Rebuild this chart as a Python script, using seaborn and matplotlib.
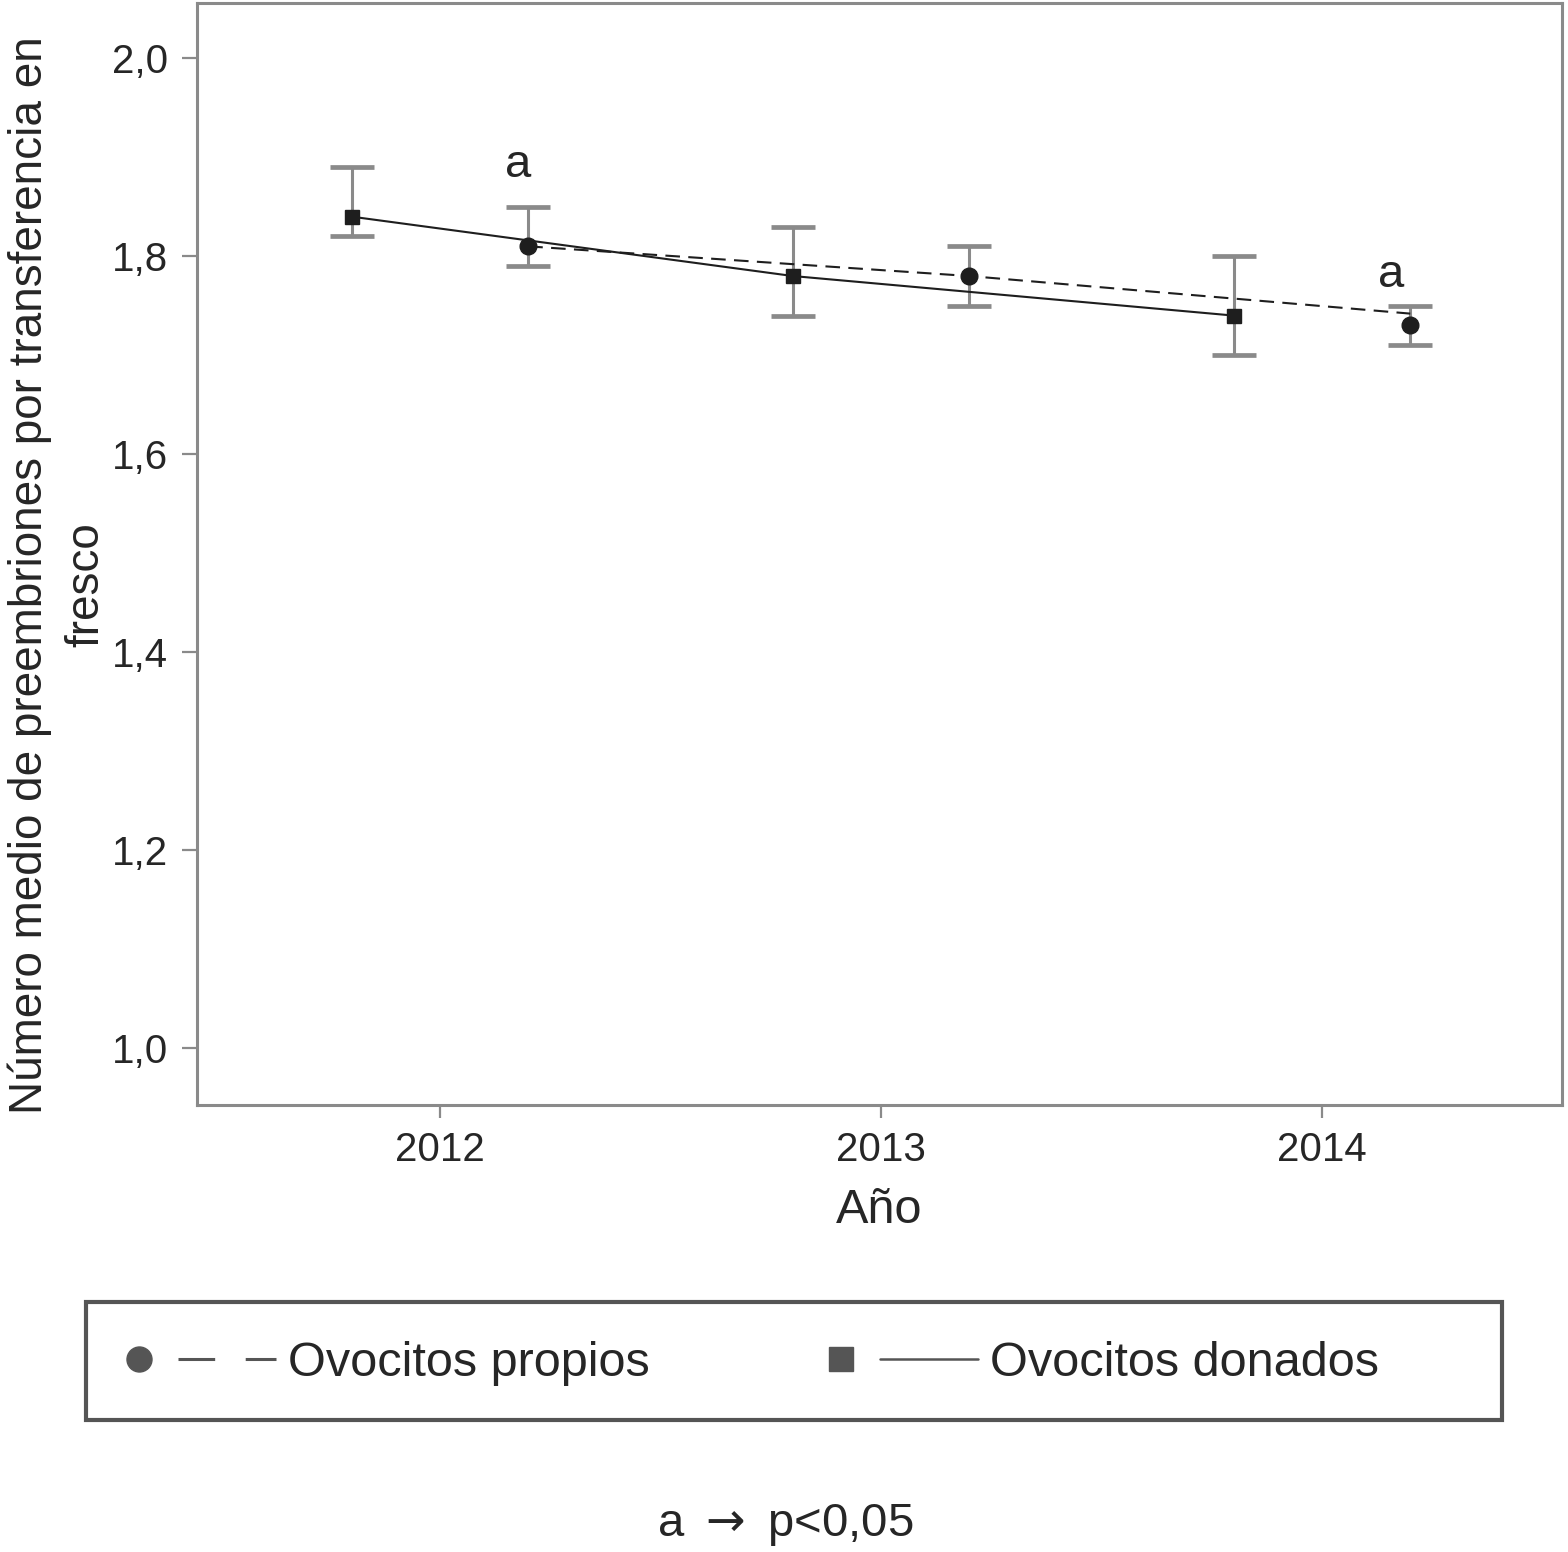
import numpy as np
import pandas as pd
import matplotlib
matplotlib.use("Agg")
import matplotlib.pyplot as plt
import seaborn as sns
from matplotlib.lines import Line2D
from matplotlib.patches import Rectangle
from matplotlib.legend_handler import HandlerBase

# data
years = [2012, 2013, 2014]
propios_mean = [1.81, 1.78, 1.73]
propios_lo = [1.79, 1.75, 1.71]
propios_hi = [1.85, 1.81, 1.75]
propios_line = [1.81, 1.78, 1.742]
donados_mean = [1.84, 1.78, 1.74]
donados_lo = [1.82, 1.74, 1.70]
donados_hi = [1.89, 1.83, 1.80]
yticks = [1.0, 1.2, 1.4, 1.6, 1.8, 2.0]
signif_idx = [0, 2]   # propios points marked with "a"
signif_dx = [-0.022, -0.043]
signif_dy = [0.02, 0.009]

DODGE = 0.2
FONT = ["Liberation Sans", "DejaVu Sans"]
GREY = "#8a8a8a"
DARK = "#1e1e1e"
LEG = "#555555"

sns.set_style("white")
plt.rcParams["font.family"] = FONT


class MarkerThenLine(HandlerBase):
    # marker at the left, line segment to the right of it
    def create_artists(self, legend, orig_handle, xdescent, ydescent,
                       width, height, fontsize, trans):
        mk, ln = orig_handle
        y = height / 2 - ydescent
        x0 = -xdescent
        m = Line2D([x0 + 0.125 * width], [y], ls="none", marker=mk.get_marker(),
                   ms=mk.get_markersize(), color=mk.get_color())
        l = Line2D([0, 1], [0, 0])
        l.update_from(ln)
        l.set_data([x0 + 0.375 * width, x0 + width], [y, y])
        m.set_transform(trans)
        l.set_transform(trans)
        return [m, l]


df = pd.DataFrame({
    "year": years * 2,
    "mean": propios_mean + donados_mean,
    "lo": propios_lo + donados_lo,
    "hi": propios_hi + donados_hi,
    "line": propios_line + donados_mean,
    "grupo": ["Ovocitos propios"] * 3 + ["Ovocitos donados"] * 3,
})
df["x"] = df["year"] + np.where(df["grupo"] == "Ovocitos propios", DODGE, -DODGE)

fig = plt.figure(figsize=(15.68, 15.52), dpi=100)
ax = fig.add_axes([197 / 1568, 1 - 1105 / 1552, 1365 / 1568, 1102 / 1552])

styles = {
    "Ovocitos propios": dict(marker="o", ls=(0, (7, 4)), ms=12),
    "Ovocitos donados": dict(marker="s", ls="-", ms=10),
}

for grupo, sub in df.groupby("grupo"):
    st = styles[grupo]
    ax.errorbar(sub["x"], sub["mean"],
                yerr=[sub["mean"] - sub["lo"], sub["hi"] - sub["mean"]],
                fmt="none", ecolor=GREY, elinewidth=2.2, capsize=16, capthick=3.4, zorder=2)
    sns.lineplot(data=sub, x="x", y="line", ax=ax, color=DARK, lw=1.5,
                 linestyle=st["ls"], zorder=3, legend=False)
    ax.plot(sub["x"], sub["mean"], ls="none", marker=st["marker"], ms=st["ms"],
            color=DARK, mec=DARK, zorder=4)

prop = df[df["grupo"] == "Ovocitos propios"].reset_index(drop=True)
for i, dx, dy in zip(signif_idx, signif_dx, signif_dy):
    ax.text(prop.loc[i, "x"] + dx, prop.loc[i, "hi"] + dy, "a",
            ha="center", va="bottom", fontsize=34)

ax.set_xlim(2011.449, 2014.544)
ax.set_ylim(0.942, 2.056)
ax.set_xticks(years)
ax.set_xticklabels([str(y) for y in years])
ax.set_yticks(yticks)
ax.set_yticklabels([f"{v:.1f}".replace(".", ",") for v in yticks])
ax.tick_params(axis="both", labelsize=29, width=1.6, color=GREY,
               direction="out", left=True, bottom=True)
ax.tick_params(axis="y", length=11, pad=10)
ax.tick_params(axis="x", length=9.5, pad=9)
for s in ax.spines.values():
    s.set_color(GREY)
    s.set_linewidth(2.2)

ax.set_xlabel("Año", fontsize=35, labelpad=14)
# y label wraps onto a second line ("fresco"), drawn as its own text
ax.set_ylabel("Número medio de preembriones por transferencia en",
              fontsize=33, va="center")
ax.yaxis.set_label_coords(-0.1225, 0.481)
ax.text(-0.081, 0.472, "fresco", rotation=90, ha="center", va="center",
        fontsize=33, transform=ax.transAxes)

handles = [
    (Line2D([], [], ls="none", marker="o", ms=18, color=LEG),
     Line2D([], [], ls=(0, (12, 10)), lw=2.2, color=LEG)),
    (Line2D([], [], ls="none", marker="s", ms=17, color=LEG),
     Line2D([], [], ls="-", lw=1.8, color=LEG)),
]
leg = fig.legend(handles, ["Ovocitos propios", "Ovocitos donados"],
                 handler_map={tuple: MarkerThenLine()},
                 ncol=2, loc="center left",
                 bbox_to_anchor=(120 / 1568, 1 - 1364 / 1552),
                 fontsize=35, handlelength=3.2, handletextpad=0.25,
                 columnspacing=3.55, borderpad=0, borderaxespad=0,
                 frameon=False)
fig.patches.append(Rectangle((86 / 1568, 1 - 1420 / 1552), 1416 / 1568, 118 / 1552,
                             transform=fig.transFigure, fill=False,
                             ec=LEG, lw=3))

fig.text(785 / 1568, 1 - 1525 / 1552, "a $\\rightarrow$ p<0,05", ha="center", va="center",
         fontsize=34)

fig.savefig("out.png", dpi=100)
